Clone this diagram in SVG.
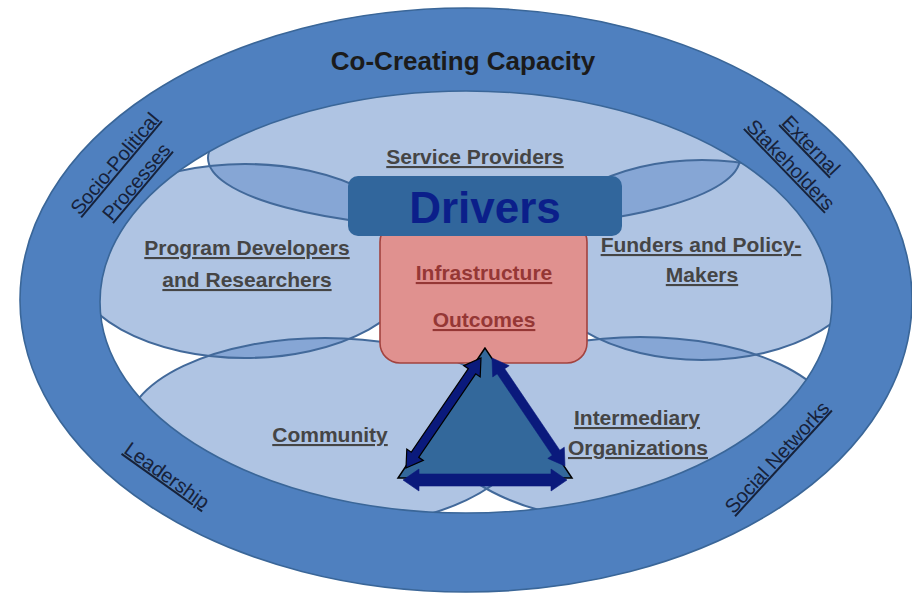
<svg xmlns="http://www.w3.org/2000/svg" xmlns:xlink="http://www.w3.org/1999/xlink" width="912" height="595" viewBox="0 0 912 595">
  <style>
    .lobe { fill: #5b87c5; fill-opacity: 0.49; stroke: none; }
    .lobe-line { fill: none; stroke: #42699a; stroke-width: 2; }
    .ring { fill: #4f80bf; stroke: #3a6698; stroke-width: 1.6; fill-rule: evenodd; }
    .lbl { font-family: "Liberation Sans", Arial, sans-serif; font-weight: bold; font-size: 21px; fill: #454545; text-anchor: middle; text-decoration: underline; }
    .ringlbl { font-family: "Liberation Sans", Arial, sans-serif; font-size: 20px; fill: #17223a; text-anchor: middle; text-decoration: underline; }
    .title { font-family: "Liberation Sans", Arial, sans-serif; font-weight: bold; font-size: 26px; fill: #1b1b1b; text-anchor: middle; }
    .outc { font-family: "Liberation Sans", Arial, sans-serif; font-weight: bold; font-size: 21px; fill: #953735; text-anchor: middle; text-decoration: underline; }
    .drv { font-family: "Liberation Sans", Arial, sans-serif; font-weight: bold; font-size: 44px; fill: #0b1f8a; text-anchor: middle; }
    .arrow { fill: #0a1a7c; stroke: #000000; stroke-width: 1.2; stroke-linejoin: miter; }
    .arrow-plain { fill: #0a1a7c; stroke: #0a1a7c; stroke-width: 0.6; }
  </style>
  <defs>
    <ellipse id="e-sp" cx="474" cy="158" rx="266" ry="70"/>
    <ellipse id="e-pd" cx="245" cy="261" rx="175" ry="97"/>
    <ellipse id="e-fp" cx="702" cy="260" rx="168" ry="100"/>
    <ellipse id="e-co" cx="325" cy="433" rx="200" ry="95"/>
    <ellipse id="e-io" cx="640" cy="430" rx="198" ry="93"/>
  </defs>

  <rect x="0" y="0" width="912" height="595" fill="#ffffff"/>

  <!-- lobe fills -->
  <g id="lobe-fills">
    <use xlink:href="#e-sp" class="lobe"/>
    <use xlink:href="#e-pd" class="lobe"/>
    <use xlink:href="#e-fp" class="lobe"/>
    <use xlink:href="#e-co" class="lobe"/>
    <use xlink:href="#e-io" class="lobe"/>
  </g>
  <g id="lobe-outlines">
    <use xlink:href="#e-sp" class="lobe-line"/>
    <use xlink:href="#e-pd" class="lobe-line"/>
    <use xlink:href="#e-fp" class="lobe-line"/>
    <use xlink:href="#e-co" class="lobe-line"/>
    <use xlink:href="#e-io" class="lobe-line"/>
  </g>

  <!-- outer ring: Co-Creating Capacity -->
  <g id="co-creating-capacity">
    <path class="ring" d="M 20,300 a 446,292 0 1,0 892,0 a 446,292 0 1,0 -892,0 Z M 100,302 a 366,211 0 1,0 732,0 a 366,211 0 1,0 -732,0 Z"/>
    <text class="title" x="463" y="70">Co-Creating Capacity</text>
    <text class="ringlbl" transform="translate(120,168) rotate(-50)"><tspan x="0" y="0">Socio-Political</tspan><tspan x="0" y="28">Processes</tspan></text>
    <text class="ringlbl" transform="translate(806,150) rotate(46)"><tspan x="0" y="0">External</tspan><tspan x="0" y="28">Stakeholders</tspan></text>
    <text class="ringlbl" transform="translate(163,481) rotate(35.5)" x="0" y="0">Leadership</text>
    <text class="ringlbl" transform="translate(782,462) rotate(-47.5)" x="0" y="0">Social Networks</text>
  </g>

  <!-- lobe labels -->
  <g id="service-providers">
    <text class="lbl" x="475" y="164">Service Providers</text>
  </g>
  <g id="program-developers">
    <text class="lbl" x="247" y="255">Program Developers</text>
    <text class="lbl" x="247" y="287">and Researchers</text>
  </g>
  <g id="funders-policy-makers">
    <text class="lbl" x="701" y="252">Funders and Policy-</text>
    <text class="lbl" x="702" y="282">Makers</text>
  </g>
  <g id="community">
    <text class="lbl" x="330" y="442">Community</text>
  </g>
  <g id="intermediary-organizations">
    <text class="lbl" x="637" y="425">Intermediary</text>
    <text class="lbl" x="638" y="455">Organizations</text>
  </g>

  <!-- center boxes -->
  <g id="infrastructure-outcomes">
    <rect x="380" y="222" width="207" height="141" rx="20" ry="20" fill="#e0918f" stroke="#a2433f" stroke-width="1.6"/>
    <text class="outc" x="484" y="280">Infrastructure</text>
    <text class="outc" x="484" y="327">Outcomes</text>
  </g>
  <g id="drivers">
    <rect x="348" y="176" width="274" height="60" rx="10" ry="10" fill="#31669c"/>
    <text class="drv" x="485" y="223">Drivers</text>
  </g>

  <!-- triangle -->
  <g id="triangle">
    <polygon points="485,348 398,478 572,478" fill="#33689b" stroke="#000000" stroke-width="1.5" stroke-linejoin="miter"/>
  </g>

  <!-- connectors -->
  <g id="connectors">
    <polygon class="arrow" points="406,468 423.3,460.4 418.7,457.3 475.7,373.8 480.2,376.9 481,358 463.7,365.6 468.3,368.7 411.3,452.2 406.8,449.1"/>
    <polygon class="arrow-plain" points="492,358 492.7,376.9 497.2,373.8 552.3,455.3 547.8,458.4 565,466 564.3,447.2 559.8,450.2 504.7,368.7 509.2,365.7"/>
    <polygon class="arrow-plain" points="403,480 419,491 419,486 551,486 551,491 567,480 551,469 551,474 419,474 419,469"/>
  </g>
</svg>
